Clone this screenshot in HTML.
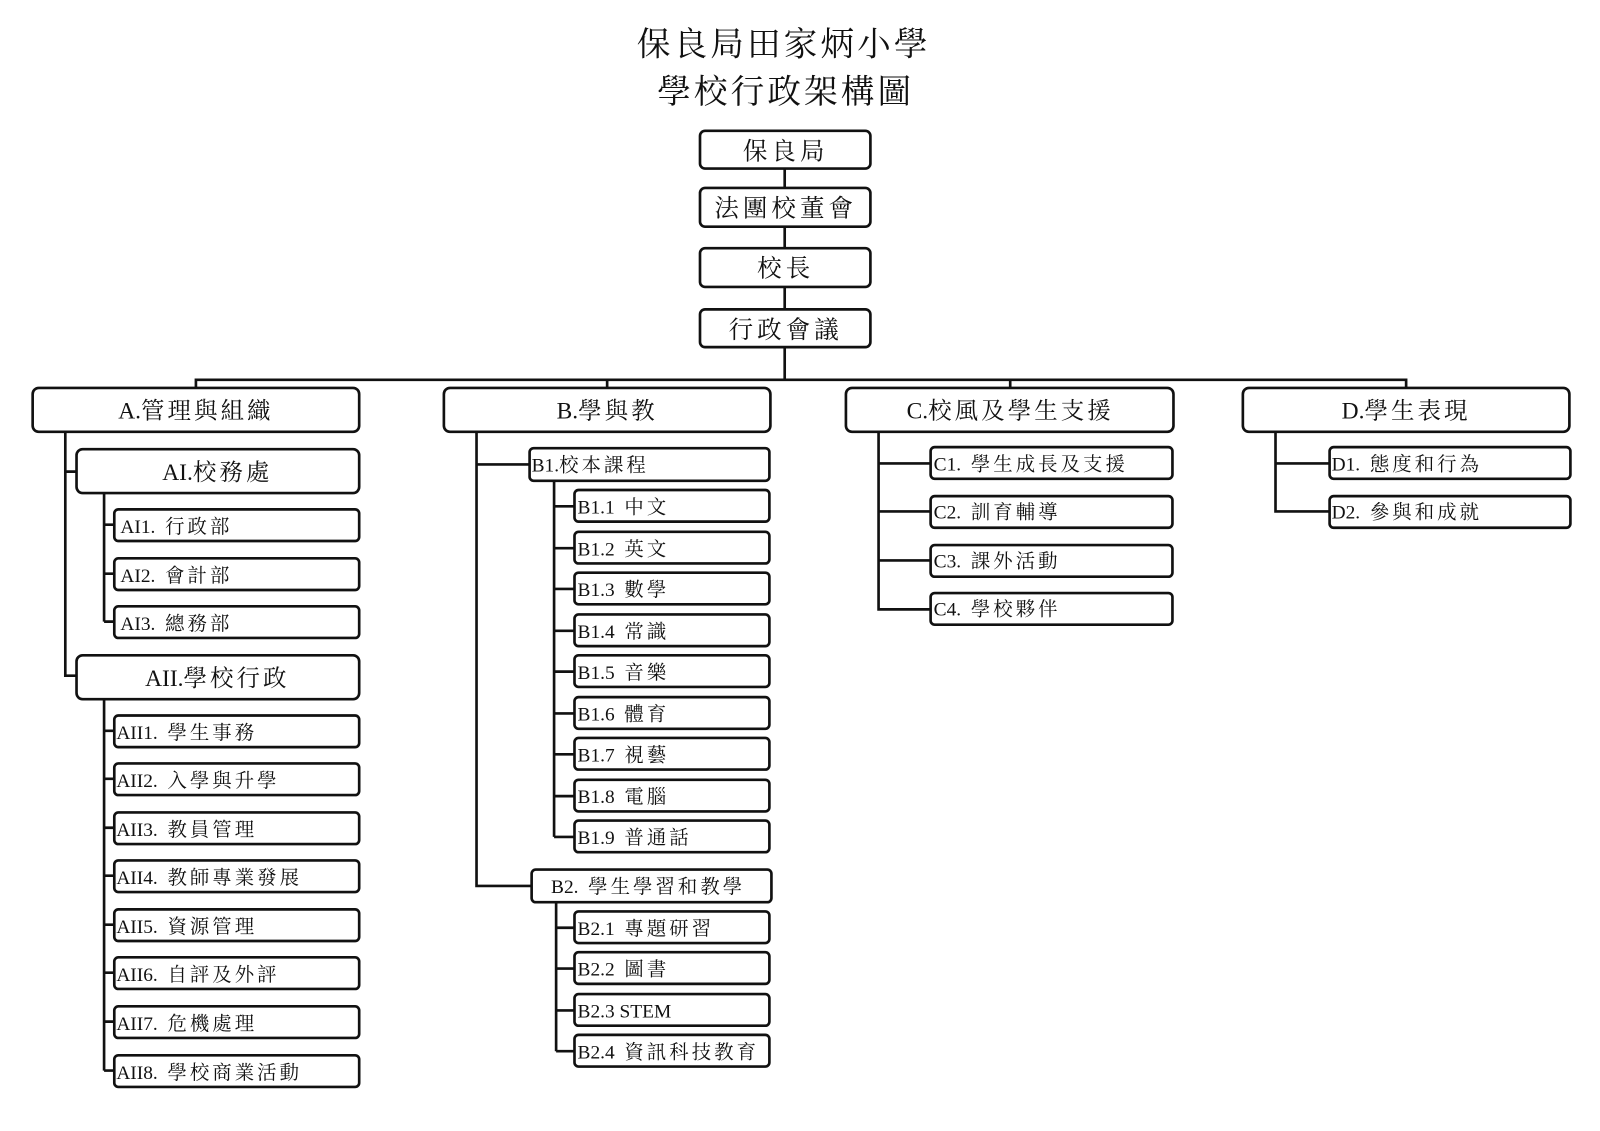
<!DOCTYPE html>
<html><head><meta charset="utf-8"><style>
html,body{margin:0;padding:0;background:#fff;}
svg{display:block;}
text{font-family:"Liberation Serif","Noto Serif CJK SC","Noto Serif CJK TC",serif;fill:#111;white-space:pre;}
tspan.l{letter-spacing:0;}
</style></head><body>
<svg width="1600" height="1131" viewBox="0 0 1568 1108" xmlns="http://www.w3.org/2000/svg">
<g fill="none" stroke="#111" stroke-width="2.6">
<path d="M769 165V372M192 380V372H1378V380M595 372V380M990 372V380"/>
<path d="M64 423V662H75M64 462H75"/>
<path d="M102 483V609M102 514H112M102 562H112M102 609H112"/>
<path d="M102 685V1049M102 716H112M102 763H112M102 811H112M102 858H112M102 906H112M102 953H112M102 1001H112M102 1049H112"/>
<path d="M467 423V868H521M467 455H519"/>
<path d="M543 471V820M543 496H563M543 537H563M543 577H563M543 618H563M543 658H563M543 699H563M543 739H563M543 780H563M543 820H563"/>
<path d="M545 884V1030M545 909H563M545 949H563M545 990H563M545 1030H563"/>
<path d="M861 423V597H912M861 454H912M861 501H912M861 549H912"/>
<path d="M1250 423V501H1303M1250 454H1303"/>
</g>
<g fill="#fff" stroke="#111" stroke-width="2.6">
<rect x="686" y="128" width="167" height="37" rx="5"/>
<rect x="686" y="184" width="167" height="38" rx="5"/>
<rect x="686" y="243" width="167" height="38" rx="5"/>
<rect x="686" y="303" width="167" height="37" rx="5"/>
<rect x="32" y="380" width="320" height="43" rx="6"/>
<rect x="435" y="380" width="320" height="43" rx="6"/>
<rect x="829" y="380" width="321" height="43" rx="6"/>
<rect x="1218" y="380" width="320" height="43" rx="6"/>
<rect x="75" y="440" width="277" height="43" rx="6"/>
<rect x="75" y="642" width="277" height="43" rx="6"/>
<rect x="112" y="499" width="240" height="31" rx="4"/>
<rect x="112" y="547" width="240" height="31" rx="4"/>
<rect x="112" y="594" width="240" height="31" rx="4"/>
<rect x="112" y="701" width="240" height="31" rx="4"/>
<rect x="112" y="748" width="240" height="31" rx="4"/>
<rect x="112" y="796" width="240" height="31" rx="4"/>
<rect x="112" y="843" width="240" height="31" rx="4"/>
<rect x="112" y="891" width="240" height="31" rx="4"/>
<rect x="112" y="938" width="240" height="31" rx="4"/>
<rect x="112" y="986" width="240" height="31" rx="4"/>
<rect x="112" y="1034" width="240" height="31" rx="4"/>
<rect x="519" y="439" width="235" height="32" rx="4"/>
<rect x="521" y="852" width="235" height="32" rx="4"/>
<rect x="563" y="480" width="191" height="31" rx="4"/>
<rect x="563" y="521" width="191" height="31" rx="4"/>
<rect x="563" y="561" width="191" height="31" rx="4"/>
<rect x="563" y="602" width="191" height="31" rx="4"/>
<rect x="563" y="642" width="191" height="31" rx="4"/>
<rect x="563" y="683" width="191" height="31" rx="4"/>
<rect x="563" y="723" width="191" height="31" rx="4"/>
<rect x="563" y="764" width="191" height="31" rx="4"/>
<rect x="563" y="804" width="191" height="31" rx="4"/>
<rect x="563" y="893" width="191" height="31" rx="4"/>
<rect x="563" y="933" width="191" height="31" rx="4"/>
<rect x="563" y="974" width="191" height="31" rx="4"/>
<rect x="563" y="1014" width="191" height="31" rx="4"/>
<rect x="912" y="438" width="237" height="31" rx="4"/>
<rect x="912" y="486" width="237" height="31" rx="4"/>
<rect x="912" y="534" width="237" height="31" rx="4"/>
<rect x="912" y="581" width="237" height="31" rx="4"/>
<rect x="1303" y="438" width="236" height="31" rx="4"/>
<rect x="1303" y="486" width="236" height="31" rx="4"/>
</g>
<g text-anchor="middle">
<text x="768" y="54" font-size="33" letter-spacing="3">保良局田家炳小學</text>
<text x="770" y="101" font-size="33" letter-spacing="3">學校行政架構圖</text>
<text x="770" y="156" font-size="24" letter-spacing="4">保良局</text>
<text x="770" y="212" font-size="24" letter-spacing="4">法團校董會</text>
<text x="770" y="271" font-size="24" letter-spacing="4">校長</text>
<text x="770" y="331" font-size="24" letter-spacing="4">行政會議</text>
<text x="192" y="410" font-size="23" letter-spacing="3"><tspan class="l">A.</tspan>管理與組織</text>
<text x="595" y="410" font-size="23" letter-spacing="3"><tspan class="l">B.</tspan>學與教</text>
<text x="990" y="410" font-size="23" letter-spacing="3"><tspan class="l">C.</tspan>校風及學生支援</text>
<text x="1378" y="410" font-size="23" letter-spacing="3"><tspan class="l">D.</tspan>學生表現</text>
<text x="213" y="470" font-size="23" letter-spacing="3"><tspan class="l">AI.</tspan>校務處</text>
<text x="213" y="672" font-size="23" letter-spacing="3"><tspan class="l">AII.</tspan>學校行政</text>
</g>
<g font-size="19" letter-spacing="3">
<text x="118" y="522"><tspan class="l">AI1.  </tspan>行政部</text>
<text x="118" y="570"><tspan class="l">AI2.  </tspan>會計部</text>
<text x="118" y="617"><tspan class="l">AI3.  </tspan>總務部</text>
<text x="114" y="724"><tspan class="l">AII1.  </tspan>學生事務</text>
<text x="114" y="771"><tspan class="l">AII2.  </tspan>入學與升學</text>
<text x="114" y="819"><tspan class="l">AII3.  </tspan>教員管理</text>
<text x="114" y="866"><tspan class="l">AII4.  </tspan>教師專業發展</text>
<text x="114" y="914"><tspan class="l">AII5.  </tspan>資源管理</text>
<text x="114" y="961"><tspan class="l">AII6.  </tspan>自評及外評</text>
<text x="114" y="1009"><tspan class="l">AII7.  </tspan>危機處理</text>
<text x="114" y="1057"><tspan class="l">AII8.  </tspan>學校商業活動</text>
<text x="521" y="462"><tspan class="l">B1.</tspan>校本課程</text>
<text x="540" y="875"><tspan class="l">B2.  </tspan>學生學習和教學</text>
<text x="566" y="503"><tspan class="l">B1.1  </tspan>中文</text>
<text x="566" y="544"><tspan class="l">B1.2  </tspan>英文</text>
<text x="566" y="584"><tspan class="l">B1.3  </tspan>數學</text>
<text x="566" y="625"><tspan class="l">B1.4  </tspan>常識</text>
<text x="566" y="665"><tspan class="l">B1.5  </tspan>音樂</text>
<text x="566" y="706"><tspan class="l">B1.6  </tspan>體育</text>
<text x="566" y="746"><tspan class="l">B1.7  </tspan>視藝</text>
<text x="566" y="787"><tspan class="l">B1.8  </tspan>電腦</text>
<text x="566" y="827"><tspan class="l">B1.9  </tspan>普通話</text>
<text x="566" y="916"><tspan class="l">B2.1  </tspan>專題研習</text>
<text x="566" y="956"><tspan class="l">B2.2  </tspan>圖書</text>
<text x="566" y="997"><tspan class="l">B2.3 STEM</tspan></text>
<text x="566" y="1037"><tspan class="l">B2.4  </tspan>資訊科技教育</text>
<text x="915" y="461"><tspan class="l">C1.  </tspan>學生成長及支援</text>
<text x="915" y="508"><tspan class="l">C2.  </tspan>訓育輔導</text>
<text x="915" y="556"><tspan class="l">C3.  </tspan>課外活動</text>
<text x="915" y="603"><tspan class="l">C4.  </tspan>學校夥伴</text>
<text x="1305" y="461"><tspan class="l">D1.  </tspan>態度和行為</text>
<text x="1305" y="508"><tspan class="l">D2.  </tspan>參與和成就</text>
</g>
</svg>
</body></html>
